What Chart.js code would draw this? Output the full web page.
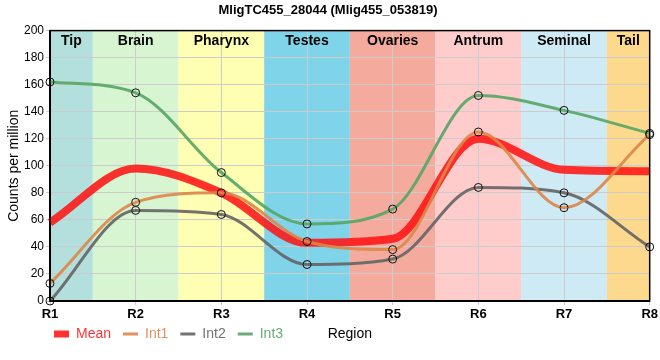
<!DOCTYPE html>
<html>
<head>
<meta charset="utf-8">
<script src="https://cdn.jsdelivr.net/npm/chart.js@4.4.1/dist/chart.umd.min.js"></script>
<style>
  html, body { margin: 0; padding: 0; background: #fff; }
  #wrap { width: 660px; height: 360px; }
</style>
</head>
<body>
<div id="wrap"><canvas id="chart"></canvas></div>
<script>
const regions = ['R1', 'R2', 'R3', 'R4', 'R5', 'R6', 'R7', 'R8']
const tissues = ['Tip', 'Brain', 'Pharynx', 'Testes', 'Ovaries', 'Antrum', 'Seminal', 'Tail']
const tissueColors = ['#b3e0dc', '#d6f5d0', '#ffffb3', '#7fd4ea', '#f4ab9d', '#ffcccc', '#cdeaf5', '#fdd98e']

const meanValues = [58, 98, 80, 43, 46, 120, 97, 96]
const int1Values = [13, 73, 80, 44, 38, 125, 69, 123]
const int2Values = [0, 67, 64, 27, 31, 84, 80, 40]
const int3Values = [162, 154, 95, 57, 68, 152, 141, 124]

const FONT = '"Liberation Sans", Arial, sans-serif'

const bandsPlugin = {
  id: 'bands',
  afterLayout(chart) {
    // legend sits just right of the y axis, on the same row as the axis title
    const lg = chart.legend
    lg.left += 36
    lg.right += 36
    lg.top -= 9
    lg.bottom -= 9
  },
  beforeDraw(chart) {
    const { ctx, chartArea, scales } = chart
    const x = scales.x
    const step = x.getPixelForValue(1) - x.getPixelForValue(0)
    ctx.save()
    tissues.forEach((t, i) => {
      let left = Math.max(x.getPixelForValue(i) - step / 2, chartArea.left)
      let right = Math.min(x.getPixelForValue(i) + step / 2, chartArea.right)
      ctx.fillStyle = tissueColors[i]
      ctx.fillRect(left, chartArea.top, right - left, chartArea.bottom - chartArea.top)
    })
    ctx.restore()
  },
  afterDraw(chart) {
    const { ctx, chartArea, scales } = chart
    const x = scales.x
    const step = x.getPixelForValue(1) - x.getPixelForValue(0)
    ctx.save()
    ctx.font = 'bold 14px ' + FONT
    ctx.fillStyle = '#000'
    ctx.textAlign = 'center'
    ctx.textBaseline = 'middle'
    tissues.forEach((t, i) => {
      let left = Math.max(x.getPixelForValue(i) - step / 2, chartArea.left)
      let right = Math.min(x.getPixelForValue(i) + step / 2, chartArea.right)
      ctx.fillText(t, (left + right) / 2, chartArea.top + 11)
    })
    ctx.strokeStyle = '#000'
    ctx.lineWidth = 1.5
    ctx.strokeRect(chartArea.left, chartArea.top, chartArea.right - chartArea.left, chartArea.bottom - chartArea.top)
    ctx.font = '14px ' + FONT
    const hb = chart.legend.legendHitBoxes[0]
    ctx.fillText('Region', (chartArea.left + chartArea.right) / 2, hb.top + hb.height / 2)
    ctx.restore()
  },
}

const line = (label, data, color, width, points) => ({
  label,
  data,
  borderColor: color,
  borderWidth: width,
  cubicInterpolationMode: 'monotone',
  pointRadius: points ? 4 : 0,
  pointBorderColor: '#111',
  pointBorderWidth: 1,
  pointBackgroundColor: 'rgba(0,0,0,0)',
  fill: false,
  clip: false,
})

new Chart(document.getElementById('chart'), {
  type: 'line',
  data: {
    labels: regions,
    datasets: [
      line('Int1', int1Values, 'rgba(221,134,72,0.9)', 3, true),
      line('Int2', int2Values, 'rgba(100,100,100,0.9)', 3, true),
      line('Int3', int3Values, 'rgba(85,165,100,0.9)', 3, true),
      line('Mean', meanValues, 'rgba(255,20,20,0.88)', 8, false),
    ],
  },
  options: {
    responsive: true,
    maintainAspectRatio: false,
    animation: false,
    layout: { padding: { left: 6, right: 10, top: 0, bottom: 0 } },
    plugins: {
      title: {
        display: true,
        text: 'MligTC455_28044 (Mlig455_053819)',
        color: '#000',
        font: { family: FONT, size: 13, weight: 'bold' },
        padding: { top: 3, bottom: 12 },
      },
      tooltip: { enabled: false },
      legend: {
        position: 'bottom',
        align: 'start',
        labels: {
          usePointStyle: true,
          pointStyleWidth: 15,
          padding: 12,
          font: { family: FONT, size: 14 },
          generateLabels(chart) {
            const order = [3, 0, 1, 2]
            return order.map(i => {
              const ds = chart.data.datasets[i]
              return {
                text: ds.label,
                datasetIndex: i,
                pointStyle: 'line',
                strokeStyle: ds.borderColor,
                fillStyle: ds.borderColor,
                lineWidth: i === 3 ? 7 : 3,
                fontColor: ds.borderColor,
                hidden: false,
              }
            })
          },
        },
      },
    },
    scales: {
      x: {
        offset: false,
        afterFit(s) { s.height = 23 },
        grid: { color: '#cccccc', lineWidth: 1, tickLength: 4 },
        border: { color: '#000', width: 2 },
        ticks: {
          color: '#000',
          padding: 2,
          font: { family: FONT, size: 13, weight: 'bold' },
        },
      },
      y: {
        min: 0,
        max: 200,
        afterFit(s) { s.width = 44 },
        grid: { color: '#cccccc', lineWidth: 1, tickLength: 4 },
        border: { color: '#000', width: 2 },
        ticks: {
          stepSize: 20,
          color: '#000',
          padding: 2,
          font: { family: FONT, size: 12 },
        },
        title: {
          display: true,
          text: 'Counts per million',
          color: '#000',
          padding: { top: 0, bottom: 2 },
          font: { family: FONT, size: 14 },
        },
      },
    },
  },
  plugins: [bandsPlugin],
})
</script>
</body>
</html>
